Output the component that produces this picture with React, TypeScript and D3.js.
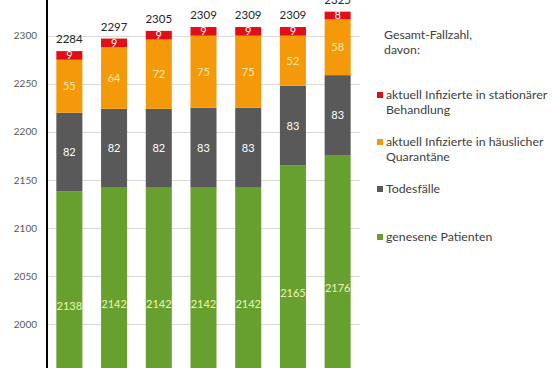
import React, { useEffect, useRef } from 'react';
import * as d3 from 'd3';

const days = ['d1', 'd2', 'd3', 'd4', 'd5', 'd6', 'd7'];
const genesen = [2138, 2142, 2142, 2142, 2142, 2165, 2176];
const tote = [82, 82, 82, 83, 83, 83, 83];
const quarantaene = [55, 64, 72, 75, 75, 52, 58];
const stationaer = [9, 9, 9, 9, 9, 9, 8];
const yTicks = [2000, 2050, 2100, 2150, 2200, 2250, 2300];

const seriesNames = ['genesen', 'tote', 'quarantaene', 'stationaer'];
const seriesColors = ['#67a02e', '#595959', '#f49a0a', '#e20e17'];
const labelColors = ['#eef7b4', '#ffffff', '#fde9a6', '#ffffff'];

const legendItems = [
  { lines: ['aktuell Infizierte in stationärer', 'Behandlung'], color: '#e20e17', y: 95 },
  { lines: ['aktuell Infizierte in häuslicher', 'Quarantäne'], color: '#f49a0a', y: 142 },
  { lines: ['Todesfälle'], color: '#595959', y: 189 },
  { lines: ['genesene Patienten'], color: '#67a02e', y: 237 },
];

const W = 552, H = 368;
const font = 'Lato, "Open Sans", sans-serif';
const yMin = 1900;

const App = () => {
  const ref = useRef<SVGSVGElement | null>(null);

  useEffect(() => {
    const svg = d3.select(ref.current);
    svg.selectAll('*').remove();

    const rows = days.map((d, i) => ({
      day: d,
      genesen: genesen[i],
      tote: tote[i],
      quarantaene: quarantaene[i],
      stationaer: stationaer[i],
    }));

    const x = d3.scaleBand().domain(days).range([47, 360]).paddingInner(0.418).paddingOuter(0.209);
    const y = d3.scaleLinear().domain([yMin, 2300]).range([420.5, 35.7]);

    // grid
    svg.append('g')
      .selectAll('line')
      .data(yTicks)
      .enter()
      .append('line')
      .attr('x1', 48)
      .attr('x2', 360)
      .attr('y1', (d) => Math.round(y(d)) + 0.5)
      .attr('y2', (d) => Math.round(y(d)) + 0.5)
      .attr('stroke', '#d9d9d9')
      .attr('stroke-width', 1);

    svg.append('g')
      .selectAll('text')
      .data(yTicks)
      .enter()
      .append('text')
      .attr('x', 37)
      .attr('y', (d) => y(d) + 3.5)
      .attr('text-anchor', 'end')
      .attr('font-family', font)
      .attr('font-size', 10)
      .attr('fill', '#595959')
      .text((d) => d);

    const stack = d3.stack<any>().keys(seriesNames)(rows);
    const lo = (v: number) => y(Math.max(v, yMin));

    stack.forEach((layer, si) => {
      const g = svg.append('g');
      g.selectAll('rect')
        .data(layer)
        .enter()
        .append('rect')
        .attr('x', (d: any) => x(d.data.day)!)
        .attr('width', x.bandwidth())
        .attr('y', (d) => y(d[1]))
        .attr('height', (d) => lo(d[0]) - y(d[1]))
        .attr('fill', seriesColors[si]);
      g.selectAll('text')
        .data(layer)
        .enter()
        .append('text')
        .attr('x', (d: any) => x(d.data.day)! + x.bandwidth() / 2)
        .attr('y', (d) => (lo(d[0]) + y(d[1])) / 2 + 4)
        .attr('text-anchor', 'middle')
        .attr('font-family', font)
        .attr('font-size', 11)
        .attr('fill', labelColors[si])
        .text((d) => d[1] - d[0]);
    });

    // totals
    const top = stack[stack.length - 1];
    svg.append('g')
      .selectAll('text')
      .data(top)
      .enter()
      .append('text')
      .attr('x', (d: any) => x(d.data.day)! + x.bandwidth() / 2)
      .attr('y', (d) => y(d[1]) - 8)
      .attr('text-anchor', 'middle')
      .attr('font-family', font)
      .attr('font-size', 11.5)
      .attr('fill', '#262626')
      .text((d) => d[1]);

    // axis line
    svg.append('line')
      .attr('x1', 47)
      .attr('x2', 47)
      .attr('y1', 0)
      .attr('y2', H)
      .attr('stroke', '#000')
      .attr('stroke-width', 2);

    // legend
    const lg = svg.append('g').attr('font-family', font).attr('font-size', 12.3).attr('fill', '#404040');
    lg.append('text').attr('x', 384).attr('y', 39).text('Gesamt-Fallzahl,');
    lg.append('text').attr('x', 384).attr('y', 54).text('davon:');
    legendItems.forEach((it) => {
      lg.append('rect')
        .attr('x', 377)
        .attr('y', it.y - 3)
        .attr('width', 6)
        .attr('height', 6)
        .attr('fill', it.color);
      it.lines.forEach((l, li) => {
        lg.append('text')
          .attr('x', 386)
          .attr('y', it.y + 4 + li * 15)
          .text(l);
      });
    });
  }, []);

  return (
    <svg
      ref={ref}
      width={W}
      height={H}
      style={{ position: 'absolute', left: 0, top: 0, background: '#fff' }}
    />
  );
};

export default App;
